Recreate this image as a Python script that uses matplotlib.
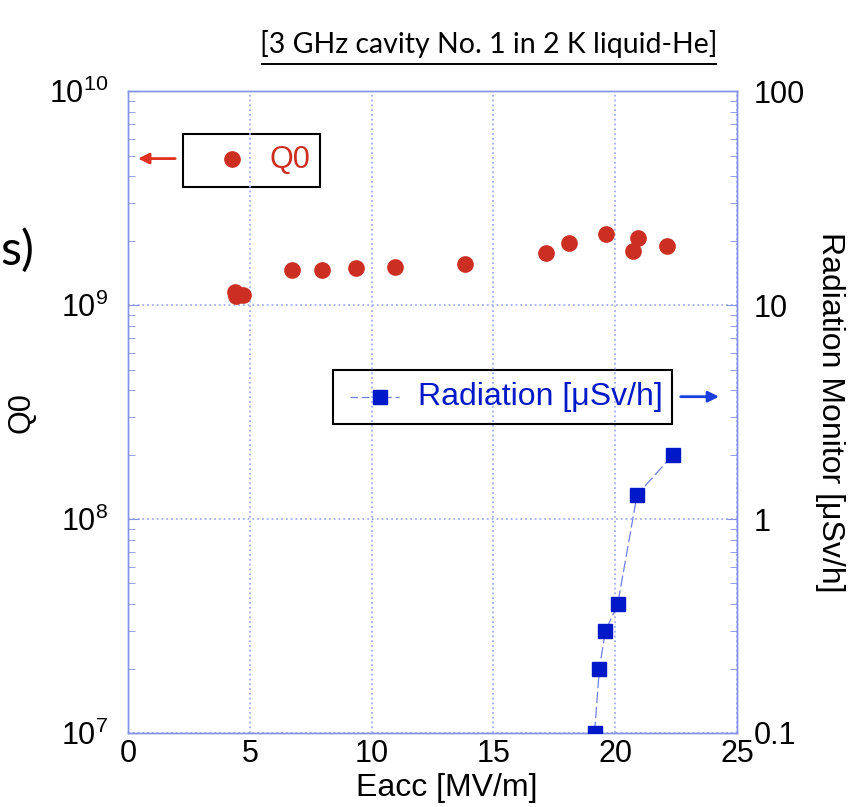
import matplotlib.pyplot as plt
from matplotlib.ticker import FixedLocator, FixedFormatter, LogLocator, NullFormatter

plt.rcParams['font.family'] = ['Liberation Sans', 'DejaVu Sans']

# Q0 measurements
eacc_q0 = [4.38, 4.42, 4.72, 6.73, 7.95, 9.37, 10.97, 13.85, 17.16, 18.09, 19.62, 20.72, 20.93, 22.14]
q0 = [1.15e9, 1.10e9, 1.11e9, 1.46e9, 1.46e9, 1.49e9, 1.51e9, 1.56e9, 1.76e9, 1.96e9, 2.15e9, 1.79e9, 2.07e9, 1.89e9]

# radiation monitor readings
eacc_rad = [19.15, 19.35, 19.6, 20.1, 20.9, 22.38]
rad = [0.1, 0.2, 0.3, 0.4, 1.3, 2.0]

x_ticks = [0, 5, 10, 15, 20, 25]
rad_ticks = [0.1, 1, 10, 100]
rad_labels = ['0.1', '1', '10', '100']

red = '#cc2e22'
blue = '#0019c8'
grid_c = '#a3aef0'
spine_c = '#8492e8'
fs = 22

fig = plt.figure(figsize=(8.59, 8.07), dpi=100)
ax = fig.add_axes([0.149, 0.0917, 0.709, 0.7953])
ax2 = ax.twinx()

ax.set_xlim(0, 25)
ax.set_yscale('log')
ax.set_ylim(1e7, 1e10)
ax2.set_yscale('log')
ax2.set_ylim(0.1, 100)

ax.plot(eacc_q0, q0, 'o', color=red, markersize=11, zorder=3)
ax2.plot(eacc_rad, rad, color='#6f7fe0', linewidth=0.9, linestyle=(0, (9, 3)), zorder=2)
ax2.plot(eacc_rad, rad, 's', color=blue, markersize=10, zorder=3)

ax.set_xticks(x_ticks)
ax.grid(True, which='major', color=grid_c, linestyle=':', linewidth=1.3)
ax.yaxis.set_major_locator(LogLocator(base=10, numticks=10))
ax.yaxis.set_minor_locator(LogLocator(base=10, subs=range(2, 10), numticks=20))
ax.yaxis.set_minor_formatter(NullFormatter())
ax2.yaxis.set_major_locator(FixedLocator(rad_ticks))
ax2.yaxis.set_major_formatter(FixedFormatter(rad_labels))
ax2.yaxis.set_minor_locator(LogLocator(base=10, subs=range(2, 10), numticks=20))
ax2.yaxis.set_minor_formatter(NullFormatter())

for a in (ax, ax2):
    for s in a.spines.values():
        s.set_color(spine_c)
        s.set_linewidth(1.0)
    a.tick_params(which='both', direction='in', colors=spine_c, labelcolor='black',
                  labelsize=fs)
    a.tick_params(which='major', length=8)
    a.tick_params(which='minor', length=5)
ax.tick_params(axis='x', length=0, pad=4)
ax.tick_params(axis='y', pad=14)
ax2.tick_params(axis='y', pad=12)

ax.set_xlabel('Eacc [MV/m]', fontsize=23, labelpad=2)
ax.xaxis.set_label_coords(0.524, -0.062)
ax.set_ylabel('Q0', fontsize=fs)
ax.yaxis.set_label_coords(-0.150, 0.5)
ax2.set_ylabel('Radiation Monitor [μSv/h]', fontsize=23, rotation=-90)
ax2.yaxis.set_label_coords(1.177, 0.5)

# legend boxes with arrows pointing to their axes
ax.add_patch(plt.Rectangle((0.090, 0.850), 0.225, 0.084, transform=ax.transAxes,
                           fill=False, edgecolor='black', linewidth=1.5, clip_on=False))
ax.plot([0.170], [0.895], 'o', color=red, markersize=11, transform=ax.transAxes)
ax.text(0.266, 0.893, 'Q0', color=red, fontsize=fs, ha='center', va='center',
        transform=ax.transAxes)
ax.annotate('', xy=(0.012, 0.895), xytext=(0.082, 0.895), xycoords='axes fraction',
            arrowprops=dict(arrowstyle='-|>', color='#e03020', lw=2, mutation_scale=16))

ax.add_patch(plt.Rectangle((0.336, 0.482), 0.557, 0.083, transform=ax.transAxes,
                           fill=False, edgecolor='black', linewidth=1.5, clip_on=False))
ax.plot([0.365, 0.445], [0.524, 0.524], color='#6f7fe0', linewidth=0.9,
        linestyle=(0, (6, 3)), transform=ax.transAxes)
ax.plot([0.413], [0.524], 's', color=blue, markersize=10, transform=ax.transAxes)
ax.text(0.477, 0.524, 'Radiation [μSv/h]', color=blue, fontsize=23, ha='left', va='center',
        transform=ax.transAxes)
ax.annotate('', xy=(0.975, 0.524), xytext=(0.903, 0.524), xycoords='axes fraction',
            arrowprops=dict(arrowstyle='-|>', color='#1a3ee0', lw=2, mutation_scale=16))

fig.text(0.569, 0.945, '[3 GHz cavity No. 1 in 2 K liquid-He]', fontsize=20.5, ha='center',
         va='center', family=['Lato', 'DejaVu Sans'])
fig.add_artist(plt.Line2D([0.305, 0.834], [0.921, 0.921], color='black', linewidth=1.4))
fig.text(0.0, 0.69, 's)', fontsize=35, ha='left', va='center',
         family=['Lato', 'DejaVu Sans'])

fig.savefig('out.png', dpi=100)
